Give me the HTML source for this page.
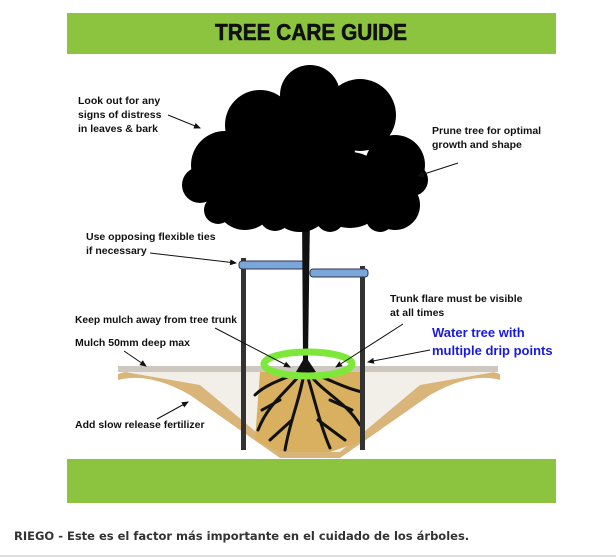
<!DOCTYPE html>
<html><head><meta charset="utf-8"><style>
html,body{margin:0;padding:0;background:#fff;width:616px;height:560px;overflow:hidden}
svg{display:block}
text{font-family:"Liberation Sans",sans-serif;font-weight:bold;font-size:10.5px;fill:#111}
</style></head><body>
<svg width="616" height="560" viewBox="0 0 616 560" xmlns="http://www.w3.org/2000/svg">
<defs><marker id="a" markerWidth="7" markerHeight="6" refX="6" refY="3" orient="auto"><path d="M0,0 L7,3 L0,6 z" fill="#111"/></marker></defs>
<rect x="67" y="13" width="489" height="41" fill="#8cc43f"/>
<text x="311" y="40" text-anchor="middle" textLength="192" lengthAdjust="spacingAndGlyphs" style="font-size:23px;font-weight:bold;fill:#111;stroke:#111;stroke-width:0.6">TREE CARE GUIDE</text>
<rect x="67" y="459" width="489" height="44" fill="#8cc43f"/>
<path d="M118,374 Q160,360 200,385 L290,452 L330,452 L420,385 Q460,360 500,374 L500,380 Q470,372 430,395 L340,458 L280,458 L190,395 Q150,372 118,380 z" fill="#d9b57a"/>
<path d="M125,372 L495,372 L420,385 L340,452 L280,452 L200,385 z" fill="#f2eee8"/>
<rect x="118" y="366" width="380" height="6" fill="#ccc8c0"/>
<path d="M260,372 L360,372 L365,440 L330,452 L280,452 L255,440 z" fill="#d8b060"/>
<g stroke="#111" stroke-width="3" fill="none" stroke-linecap="round">
<path d="M305,368 C290,390 270,400 258,430"/><path d="M305,368 C320,392 345,400 360,425"/>
<path d="M305,368 C300,400 290,420 285,450"/><path d="M305,368 C315,400 320,425 330,448"/>
<path d="M300,372 C280,380 265,385 255,395"/><path d="M310,372 C330,380 345,388 362,392"/>
<path d="M280,400 L262,410 M330,400 L352,410 M292,420 L270,440 M318,420 L345,440"/>
</g>
<rect x="241" y="258" width="5" height="192" fill="#333"/>
<rect x="360" y="266" width="5" height="184" fill="#333"/>
<rect x="239" y="261" width="66" height="8" rx="3" fill="#7aa6d8" stroke="#335" stroke-width="1"/>
<rect x="310" y="269" width="58" height="8" rx="3" fill="#7aa6d8" stroke="#335" stroke-width="1"/>
<path d="M302,215 L310,215 L308,360 L316,372 L296,372 L303,360 z" fill="#111"/>
<g fill="#000">
<circle cx="260" cy="125" r="35"/><circle cx="310" cy="95" r="30"/><circle cx="360" cy="115" r="36"/>
<circle cx="225" cy="165" r="34"/><circle cx="395" cy="165" r="30"/><circle cx="300" cy="155" r="55"/>
<circle cx="245" cy="200" r="30"/><circle cx="350" cy="190" r="38"/><circle cx="395" cy="205" r="25"/>
<circle cx="200" cy="185" r="18"/><circle cx="300" cy="200" r="32"/><circle cx="412" cy="180" r="16"/>
<circle cx="218" cy="210" r="14"/><circle cx="275" cy="215" r="16"/><circle cx="330" cy="218" r="14"/><circle cx="380" cy="218" r="14"/>
</g>
<ellipse cx="308" cy="364" rx="44" ry="12" fill="none" stroke="#7ee83a" stroke-width="7"/>
<text x="78" y="104">Look out for any</text><text x="78" y="118">signs of distress</text><text x="78" y="132">in leaves &amp; bark</text>
<line x1="168" y1="115" x2="200" y2="128" stroke="#111" marker-end="url(#a)"/>
<text x="432" y="134">Prune tree for optimal</text><text x="432" y="148">growth and shape</text>
<line x1="458" y1="163" x2="418" y2="176" stroke="#111" marker-end="url(#a)"/>
<text x="86" y="240">Use opposing flexible ties</text><text x="86" y="254">if necessary</text>
<line x1="150" y1="253" x2="236" y2="263" stroke="#111" marker-end="url(#a)"/>
<text x="75" y="323" textLength="162" lengthAdjust="spacingAndGlyphs">Keep mulch away from tree trunk</text>
<line x1="215" y1="328" x2="290" y2="367" stroke="#111" marker-end="url(#a)"/>
<text x="75" y="346">Mulch 50mm deep max</text>
<line x1="124" y1="351" x2="146" y2="366" stroke="#111" marker-end="url(#a)"/>
<text x="390" y="302">Trunk flare must be visible</text><text x="390" y="316">at all times</text>
<line x1="403" y1="324" x2="336" y2="367" stroke="#111" marker-end="url(#a)"/>
<text x="432" y="337" style="fill:#1a1adc;font-size:13px">Water tree with</text>
<text x="432" y="355" style="fill:#1a1adc;font-size:13px">multiple drip points</text>
<line x1="430" y1="350" x2="368" y2="362" stroke="#111" marker-end="url(#a)"/>
<text x="75" y="428">Add slow release fertilizer</text>
<line x1="157" y1="419" x2="188" y2="402" stroke="#111" marker-end="url(#a)"/>
<text x="14" y="540" style="font-family:'DejaVu Sans',sans-serif;font-size:11.5px;fill:#333">RIEGO - Este es el factor más importante en el cuidado de los árboles.</text>
<rect x="0" y="555" width="616" height="2" fill="#ddd"/>
</svg>
</body></html>
